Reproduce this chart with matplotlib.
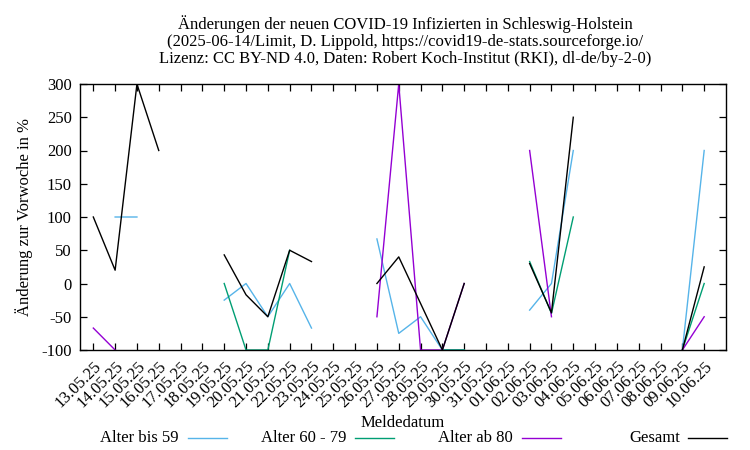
import numpy as np
import matplotlib
matplotlib.use("Agg")
import matplotlib.pyplot as plt
from matplotlib.lines import Line2D

nan = np.nan
dates = ["13.05.25", "14.05.25", "15.05.25", "16.05.25", "17.05.25", "18.05.25",
         "19.05.25", "20.05.25", "21.05.25", "22.05.25", "23.05.25", "24.05.25",
         "25.05.25", "26.05.25", "27.05.25", "28.05.25", "29.05.25", "30.05.25",
         "31.05.25", "01.06.25", "02.06.25", "03.06.25", "04.06.25", "05.06.25",
         "06.06.25", "07.06.25", "08.06.25", "09.06.25", "10.06.25"]

bis59 = [nan, 100, 100, nan, nan, nan, -25, 0, -50, 0, -67, nan, nan, 67, -75, -50,
         -100, -100, nan, nan, -40, 0, 200, nan, nan, nan, nan, -100, 200]
a60_79 = [nan, nan, nan, nan, nan, nan, 0, -100, -100, 50, nan, nan, nan, nan, nan, nan,
          -100, -100, nan, nan, 33, -45, 100, nan, nan, nan, nan, -100, 0]
ab80 = [-67, -100, nan, nan, nan, nan, nan, nan, nan, nan, nan, nan, nan, -50, 300, -100,
        -100, 0, nan, nan, 200, -50, nan, nan, nan, nan, nan, -100, -50]
gesamt = [100, 20, 300, 200, nan, nan, 43, -17, -50, 50, 33, nan, nan, 0, 40, -30,
          -100, 0, nan, nan, 30, -44, 250, nan, nan, nan, nan, -100, 25]

series = [("Alter bis 59", bis59, "#56b4e9"),
          ("Alter 60 - 79", a60_79, "#009e73"),
          ("Alter ab 80", ab80, "#9400d3"),
          ("Gesamt", gesamt, "#000000")]

plt.rcParams['font.family'] = ['Liberation Serif', 'DejaVu Serif']
plt.rcParams['axes.unicode_minus'] = False
FS = 12

W, H = 750, 450
fig = plt.figure(figsize=(7.5, 4.5), dpi=100)
ax = fig.add_axes([80 / W, 1 - 350 / H, (726 - 80) / W, (350 - 84) / H])

x = np.arange(len(dates))
for name, vals, col in series:
    ax.plot(x, np.array(vals, dtype=float), color=col, lw=1.0)

ax.set_xlim(-0.61, 29.0)
ax.set_ylim(-100, 300)
ax.set_yticks(np.arange(-100, 301, 50))
ax.set_xticks(x)
ax.set_xticklabels(dates, rotation=45, ha='right', va='top', rotation_mode='anchor',
                   fontsize=FS)
ax.tick_params(axis='both', direction='in', length=5, width=0.9, top=True, right=True,
               labelsize=FS)
ax.tick_params(axis='x', pad=6)
ax.tick_params(axis='y', pad=6)
for s in ax.spines.values():
    s.set_linewidth(1.0)

ax.set_ylabel("Änderung zur Vorwoche in %", fontsize=FS, labelpad=6)

fig.text(405 / W, 1 - 41 / H,
         "Änderungen der neuen COVID-19 Infizierten in Schleswig-Holstein\n"
         "(2025-06-14/Limit, D. Lippold, https://covid19-de-stats.sourceforge.io/\n"
         "Lizenz: CC BY-ND 4.0, Daten: Robert Koch-Institut (RKI), dl-de/by-2-0)",
         ha='center', va='center', fontsize=FS, linespacing=1.05)

fig.text(403 / W, 1 - 423 / H, "Meldedatum", ha='center', va='center', fontsize=FS)

# legend (gnuplot style: text then sample line)
text_right = [179, 346, 513, 680]
line_start = [188, 355, 522, 688]
ly = 1 - 438 / H
for (name, vals, col), tr, ls in zip(series, text_right, line_start):
    fig.text(tr / W, ly, name, ha='right', va='center', fontsize=FS)
    fig.add_artist(Line2D([ls / W, (ls + 39) / W], [ly, ly], color=col, lw=1.0,
                          transform=fig.transFigure))

fig.savefig("out.png", dpi=100)
